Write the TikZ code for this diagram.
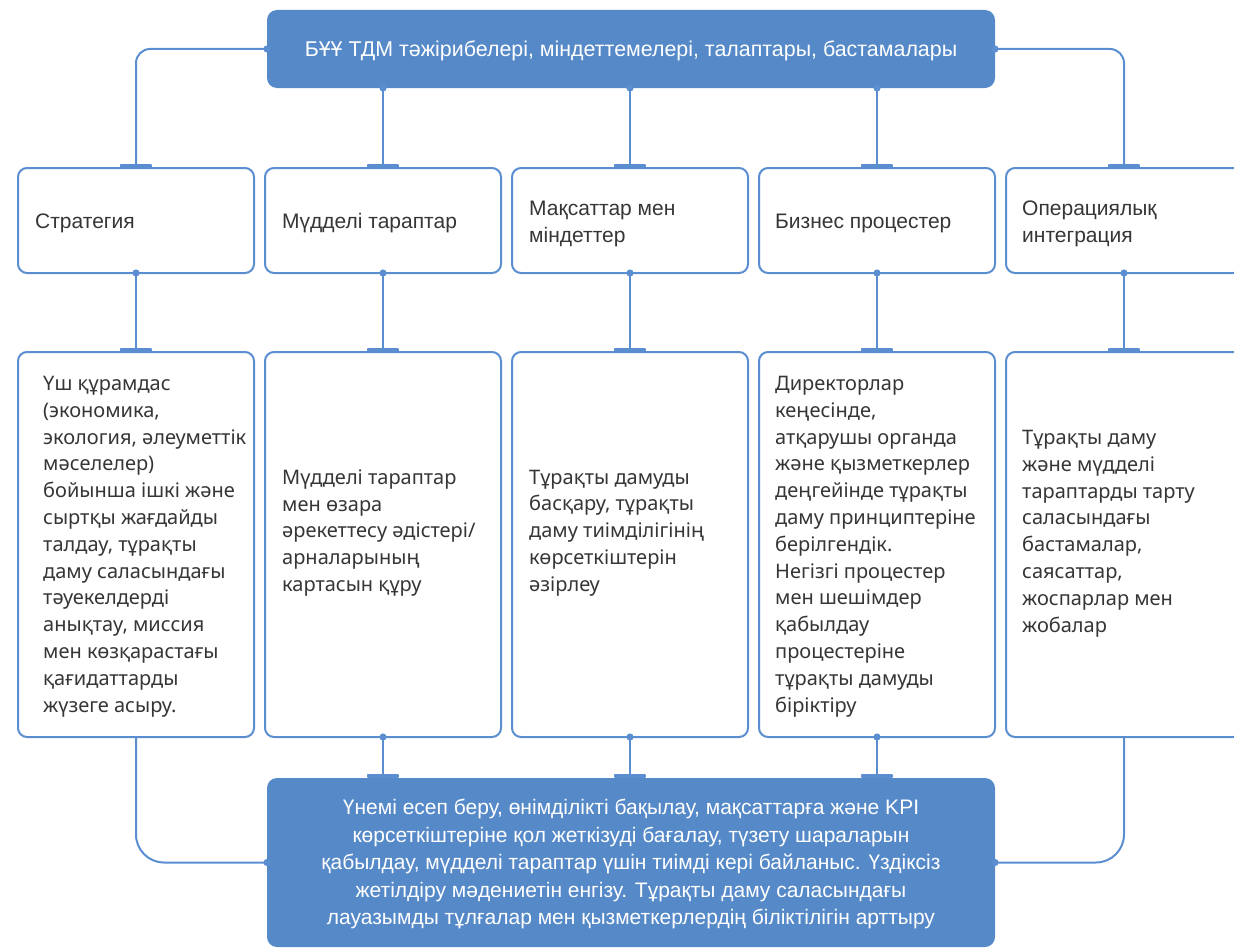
\documentclass[tikz,border=0pt]{standalone}
\usepackage{fontspec}
\setmainfont{Liberation Sans}
\newfontfamily\notofont{Noto Sans}
\usetikzlibrary{arrows.meta}
\definecolor{bfill}{HTML}{5589C8}
\definecolor{bline}{HTML}{5B8ED1}
\definecolor{txt}{HTML}{363636}
\tikzset{
  wbox/.style={draw=bline, line width=2pt, fill=white, rounded corners=9pt,
    minimum width=236pt, inner sep=0pt, outer sep=0pt, anchor=north west},
  bbox/.style={fill=bfill, rounded corners=10pt, minimum width=728pt,
    inner sep=0pt, outer sep=0pt, anchor=north west},
  hdtext/.style={font=\fontsize{21}{27}\selectfont, text=txt, align=left, inner sep=0pt, anchor=west},
  bodytext/.style={font=\notofont\fontsize{20}{26.8}\selectfont, text=txt, align=left, inner sep=0pt, anchor=west},
  conn/.style={draw=bline, line width=2pt},
  dotbar/.style={conn, {Circle[length=7pt]}-{Rectangle[width=32pt,length=4.5pt,round]}, shorten <=-3.5pt},
  dotonly/.style={conn, {Circle[length=7pt]}-, shorten <=-3.5pt},
}
\begin{document}
\begin{tikzpicture}[x=1pt,y=-1pt]
\useasboundingbox (0,0) rectangle (1234,950);
\clip (0,0) rectangle (1234,950);
% top box
\node[bbox, minimum height=78pt] (top) at (267,10) {};
\node[font=\fontsize{21.4}{27}\selectfont, text=white, inner sep=0pt] (toptxt) at (631,51)
  {БҰҰ ТДМ тәжірибелері, міндеттемелері, талаптары, бастамалары};
% rows
\foreach \i/\x in {1/18,2/265,3/512,4/759,5/1006}{
  \node[wbox, minimum height=105pt] (s\i) at (\x,168) {};
  \node[wbox, minimum height=385pt] (b\i) at (\x,352) {};
}
% bottom box
\node[bbox, minimum height=169pt] (bot) at (267,778) {};
% row 1 texts
\node[hdtext] (s1t) at ([xshift=17pt,yshift=-3pt]s1.west) {Стратегия};
\node[hdtext] (s2t) at ([xshift=17pt,yshift=-3pt]s2.west) {Мүдделі тараптар};
\node[hdtext] (s3t) at ([xshift=17pt,yshift=-3.5pt]s3.west) {Мақсаттар мен\\міндеттер};
\node[hdtext] (s4t) at ([xshift=16pt,yshift=-3pt]s4.west) {Бизнес процестер};
\node[hdtext] (s5t) at ([xshift=16pt,yshift=-3.5pt]s5.west) {Операциялық\\интеграция};
% row 2 texts
\node[bodytext] (b1t) at ([xshift=25pt,yshift=-2pt]b1.west) {Үш құрамдас\\(экономика,\\экология, әлеуметтік\\мәселелер)\\бойынша ішкі және\\сыртқы жағдайды\\талдау, тұрақты\\даму саласындағы\\тәуекелдерді\\анықтау, миссия\\мен көзқарастағы\\қағидаттарды\\жүзеге асыру.};
\node[bodytext] (b2t) at ([xshift=17pt,yshift=11.5pt]b2.west) {Мүдделі тараптар\\мен өзара\\әрекеттесу әдістері/\\арналарының\\картасын құру};
\node[bodytext] (b3t) at ([xshift=17pt,yshift=11.5pt]b3.west) {Тұрақты дамуды\\басқару, тұрақты\\даму тиімділігінің\\көрсеткіштерін\\әзірлеу};
\node[bodytext] (b4t) at ([xshift=16pt,yshift=-2pt]b4.west) {Директорлар\\кеңесінде,\\атқарушы органда\\және қызметкерлер\\деңгейінде тұрақты\\даму принциптеріне\\берілгендік.\\Негізгі процестер\\мен шешімдер\\қабылдау\\процестеріне\\тұрақты дамуды\\біріктіру};
\node[bodytext] (b5t) at ([xshift=16pt,yshift=11pt]b5.west) {Тұрақты даму\\және мүдделі\\тараптарды тарту\\саласындағы\\бастамалар,\\саясаттар,\\жоспарлар мен\\жобалар};
% bottom text
\node[font=\fontsize{21}{27.5}\selectfont, text=white, align=center, inner sep=0pt] (bottxt) at (631,864)
  {Үнемі есеп беру, өнімділікті бақылау, мақсаттарға және KPI\\көрсеткіштеріне қол жеткізуді бағалау, түзету шараларын\\қабылдау, мүдделі тараптар үшін тиімді кері байланыс. Үздіксіз\\жетілдіру мәдениетін енгізу. Тұрақты даму саласындағы\\лауазымды тұлғалар мен қызметкерлердің біліктілігін арттыру};
% connectors top -> row1
\draw[dotbar, rounded corners=14pt] (top.west) -| (s1.north);
\draw[dotbar, rounded corners=14pt] (top.east) -| (s5.north);
\foreach \i in {2,3,4}{
  \draw[dotbar] (top.south -| s\i.north) -- (s\i.north);
}
% row1 -> row2
\foreach \i in {1,...,5}{
  \draw[dotbar] (s\i.south) -- (b\i.north);
}
% row2 -> bottom
\foreach \i in {2,3,4}{
  \draw[dotbar] (b\i.south) -- (b\i.south |- bot.north);
}
\draw[dotonly, rounded corners=28pt] (bot.west) -| (b1.south);
\draw[dotonly, rounded corners=28pt] (bot.east) -| (b5.south);
\end{tikzpicture}
\end{document}
